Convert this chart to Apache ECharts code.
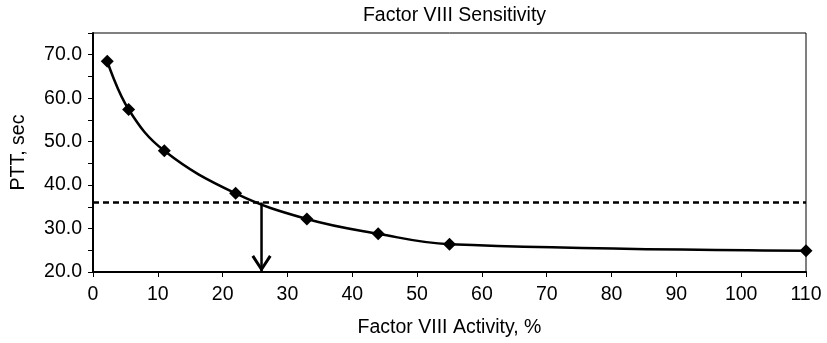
<!DOCTYPE html>
<html>
<head>
<meta charset="utf-8">
<script src="https://cdn.jsdelivr.net/npm/echarts@6/dist/echarts.min.js"></script>
<style>
  html, body { margin: 0; padding: 0; background: #fff; }
  #chart { width: 827px; height: 343px; }
</style>
</head>
<body>
<div id="chart"></div>
<script>
// factor VIII activity (%) vs PTT (sec)
const activity = [2.2, 5.5, 11, 22, 33, 44, 55, 110]
const ptt = [68.5, 57.4, 47.9, 38.1, 32.2, 28.8, 26.4, 24.9]
const cutoffPtt = 36
const cutoffActivity = 26
const xRange = [0, 110]
const yRange = [20, 75]

const font = 'Liberation Sans, Arial, sans-serif'
const chart = echarts.init(document.getElementById('chart'))

// open arrow head, tip at the bottom
const arrowHead = 'path://M10 17 L20 2.5 L17.5 0.8 L10 12 L2.5 0.8 L0 2.5 Z'

const option = {
  animation: false,
  title: {
    text: 'Factor VIII Sensitivity',
    left: 449.5,
    textAlign: 'center',
    top: 1,
    textStyle: { fontFamily: font, fontSize: 19.5, fontWeight: 'normal', color: '#000' }
  },
  grid: {
    left: 93, right: 21, top: 33, bottom: 70,
    show: true,
    borderColor: '#000',
    borderWidth: 1
  },
  xAxis: {
    type: 'value',
    min: xRange[0],
    max: xRange[1],
    interval: 10,
    name: 'Factor VIII Activity, %',
    nameLocation: 'middle',
    nameGap: 46,
    nameTextStyle: { fontFamily: font, fontSize: 19.5, color: '#000' },
    axisLine: { show: true, lineStyle: { color: '#000', width: 2 } },
    axisTick: { show: true, length: 5, lineStyle: { color: '#000', width: 1 } },
    axisLabel: { fontFamily: font, fontSize: 19.5, color: '#000', margin: 13 },
    splitLine: { show: false }
  },
  yAxis: {
    type: 'value',
    min: yRange[0],
    max: yRange[1],
    interval: 5,
    name: 'PTT, sec',
    nameLocation: 'middle',
    nameRotate: 90,
    nameGap: 64,
    nameTextStyle: { fontFamily: font, fontSize: 19.5, color: '#000' },
    axisLine: { show: true, lineStyle: { color: '#000', width: 2 } },
    axisTick: { show: true, length: 5, lineStyle: { color: '#000', width: 1 } },
    axisLabel: {
      fontFamily: font, fontSize: 19.5, color: '#000', margin: 11,
      formatter: (v) => (v % 10 === 0 ? v.toFixed(1) : '')
    },
    splitLine: { show: false }
  },
  series: [
    {
      type: 'line',
      data: [[xRange[0], cutoffPtt], [xRange[1], cutoffPtt]],
      symbol: 'none',
      lineStyle: { color: '#000', width: 2.5, type: [6, 4] },
      silent: true
    },
    {
      type: 'line',
      data: [[cutoffActivity, cutoffPtt], [cutoffActivity, yRange[0]]],
      symbol: 'none',
      lineStyle: { color: '#000', width: 2.5 },
      silent: true
    },
    {
      type: 'scatter',
      data: [[cutoffActivity, yRange[0]]],
      symbol: arrowHead,
      symbolSize: [20, 17],
      symbolOffset: [0, -8.5],
      itemStyle: { color: '#000', opacity: 1 },
      clip: false,
      silent: true
    },
    {
      type: 'line',
      data: activity.map((a, i) => [a, ptt[i]]),
      smooth: 0.4,
      symbol: 'diamond',
      symbolSize: 13,
      showAllSymbol: true,
      lineStyle: { color: '#000', width: 2.5 },
      itemStyle: { color: '#000' },
      clip: false
    }
  ]
}

chart.setOption(option)
</script>
</body>
</html>
